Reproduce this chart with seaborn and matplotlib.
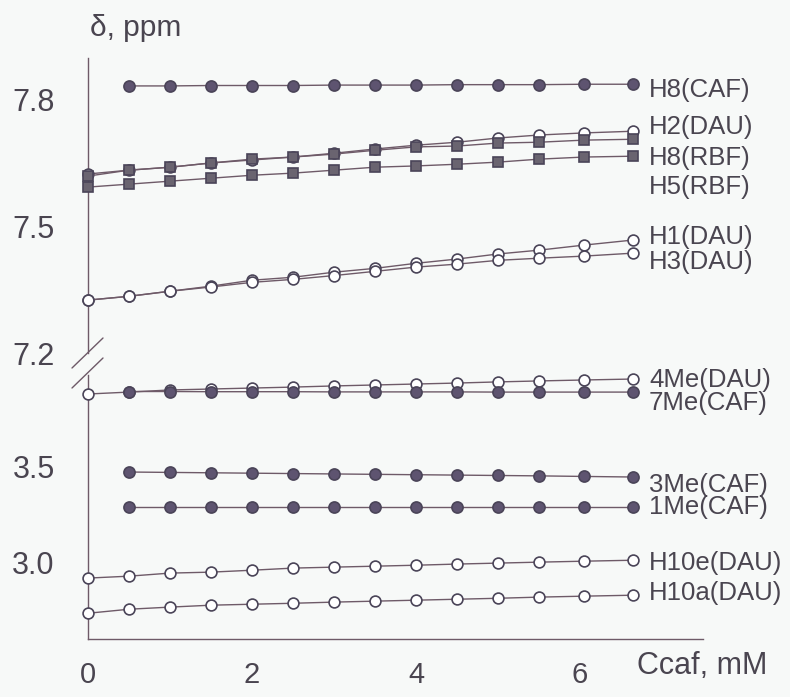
import matplotlib
matplotlib.use('Agg')
import matplotlib.pyplot as plt
import seaborn as sns
from matplotlib.lines import Line2D

sns.set_style('white')
plt.rcParams['font.family'] = ['Liberation Sans', 'DejaVu Sans']

BG = '#f7f9f8'
TXT = '#4a4550'
LINE = '#6e5a68'
FILL = '#5e5470'
EDGE = '#4a4458'
SQ = '#6a6470'

# caffeine concentration, mM
x_dau = [0, 0.5, 1.0, 1.5, 2.0, 2.5, 3.0, 3.5, 4.0, 4.5, 5.0, 5.5, 6.05, 6.65]
x_caf = x_dau[1:]

# upper part of the axis (aromatic protons)
h8_caf = [7.831, 7.831, 7.832, 7.832, 7.832, 7.833, 7.833, 7.833, 7.834, 7.834, 7.834, 7.835, 7.835]
h2_dau = [7.623, 7.632, 7.639, 7.649, 7.656, 7.663, 7.672, 7.682, 7.691, 7.698, 7.708, 7.715, 7.720, 7.724]
h8_rbf = [7.618, 7.632, 7.639, 7.649, 7.658, 7.663, 7.670, 7.679, 7.687, 7.689, 7.696, 7.698, 7.703, 7.705]
h5_rbf = [7.592, 7.599, 7.606, 7.613, 7.620, 7.625, 7.632, 7.639, 7.642, 7.646, 7.651, 7.658, 7.663, 7.665]
h1_dau = [7.325, 7.334, 7.346, 7.358, 7.372, 7.379, 7.391, 7.400, 7.412, 7.422, 7.434, 7.443, 7.455, 7.467]
h3_dau = [7.325, 7.334, 7.346, 7.356, 7.367, 7.374, 7.383, 7.393, 7.403, 7.410, 7.419, 7.424, 7.429, 7.436]

# lower part of the axis (methyl and H10 protons)
me4_dau = [3.875, 3.885, 3.896, 3.901, 3.906, 3.911, 3.917, 3.922, 3.927, 3.932, 3.938, 3.943, 3.948, 3.953]
me7_caf = [3.888, 3.888, 3.887, 3.887, 3.887, 3.886, 3.886, 3.886, 3.886, 3.885, 3.885, 3.885, 3.885]
me3_caf = [3.469, 3.467, 3.465, 3.463, 3.461, 3.459, 3.457, 3.455, 3.453, 3.451, 3.449, 3.446, 3.443]
me1_caf = [3.286, 3.286, 3.286, 3.286, 3.286, 3.286, 3.286, 3.286, 3.286, 3.286, 3.286, 3.286, 3.286]
h10e_dau = [2.917, 2.927, 2.943, 2.948, 2.958, 2.969, 2.974, 2.979, 2.984, 2.990, 2.995, 3.000, 3.005, 3.010]
h10a_dau = [2.734, 2.755, 2.766, 2.776, 2.781, 2.786, 2.792, 2.797, 2.802, 2.807, 2.812, 2.818, 2.823, 2.828]

top_labels = ['H8(CAF)', 'H2(DAU)', 'H8(RBF)', 'H5(RBF)', 'H1(DAU)', 'H3(DAU)']
top_label_y = [7.821, 7.734, 7.661, 7.592, 7.474, 7.415]
bot_labels = ['4Me(DAU)', '7Me(CAF)', '3Me(CAF)', '1Me(CAF)', 'H10e(DAU)', 'H10a(DAU)']
bot_label_y = [3.948, 3.828, 3.401, 3.286, 2.995, 2.839]

fig = plt.figure(figsize=(7.9, 6.97), dpi=100, facecolor=BG)
ax_top = fig.add_axes([0.1114, 0.4935, 0.7785, 0.4233])
ax_bot = fig.add_axes([0.1114, 0.0832, 0.7785, 0.3788])


def draw(ax, x, y, kind):
    if kind == 'filled':
        kw = dict(marker='o', markersize=8, markerfacecolor=FILL, markeredgecolor=EDGE)
    elif kind == 'open':
        kw = dict(marker='o', markersize=7.8, markerfacecolor='white', markeredgecolor=EDGE)
    else:
        kw = dict(marker='s', markersize=7, markerfacecolor=SQ, markeredgecolor=EDGE)
    sns.lineplot(x=x, y=y, ax=ax, color=LINE, linewidth=1.0, markeredgewidth=1.2,
                 clip_on=False, zorder=3, **kw)


draw(ax_top, x_caf, h8_caf, 'filled')
draw(ax_top, x_dau, h1_dau, 'open')
draw(ax_top, x_dau, h3_dau, 'open')
draw(ax_top, x_dau, h5_rbf, 'square')
draw(ax_top, x_dau, h2_dau, 'open')
draw(ax_top, x_dau, h8_rbf, 'square')

draw(ax_bot, x_dau, me4_dau, 'open')
draw(ax_bot, x_caf, me7_caf, 'filled')
draw(ax_bot, x_caf, me3_caf, 'filled')
draw(ax_bot, x_caf, me1_caf, 'filled')
draw(ax_bot, x_dau, h10e_dau, 'open')
draw(ax_bot, x_dau, h10a_dau, 'open')

for ax in (ax_top, ax_bot):
    ax.set_facecolor('none')
    ax.set_xlim(0, 7.5)
    ax.set_xlabel('')
    ax.set_ylabel('')
    for s in ('top', 'right'):
        ax.spines[s].set_visible(False)
    ax.spines['left'].set_color(LINE)
    ax.spines['left'].set_linewidth(1.0)
    ax.tick_params(axis='y', direction='out', length=11, width=1.0, color=LINE,
                   labelsize=22, labelcolor=TXT, pad=13)

ax_top.set_ylim(7.2, 7.897)
ax_top.set_yticks([7.2, 7.5, 7.8])
ax_top.set_yticklabels(['7.2', '7.5', '7.8'])
ax_top.yaxis.get_major_ticks()[0].tick1line.set_visible(False)
ax_top.spines['bottom'].set_visible(False)
ax_top.set_xticks([])

ax_bot.set_ylim(2.6, 3.974)
ax_bot.set_yticks([3.0, 3.5])
ax_bot.set_yticklabels(['3.0', '3.5'])
ax_bot.spines['bottom'].set_color(LINE)
ax_bot.spines['bottom'].set_linewidth(1.0)
ax_bot.set_xticks([0, 2, 4, 6])
ax_bot.set_xticklabels(['0', '2', '4', '6'])
ax_bot.tick_params(axis='x', direction='out', length=11, width=1.0, color=LINE,
                   labelsize=21, labelcolor=TXT, pad=5)

for lab, yy in zip(top_labels, top_label_y):
    ax_top.text(6.84, yy, lab, fontsize=18.5, color=TXT, va='center', ha='left')
for lab, yy in zip(bot_labels, bot_label_y):
    ax_bot.text(6.84, yy, lab, fontsize=18.5, color=TXT, va='center', ha='left')

fig.text(90 / 790, 1 - 36 / 697, 'δ, ppm', fontsize=21.5, color=TXT, ha='left', va='baseline')
fig.text(637 / 790, 1 - 666 / 697, 'Ccaf, mM', fontsize=22, color=TXT, ha='left', va='center')

# axis break marks
for y0, y1 in ((368, 338), (388, 358)):
    fig.add_artist(Line2D([72 / 790, 103 / 790], [1 - y0 / 697, 1 - y1 / 697],
                          color=LINE, linewidth=1.0, transform=fig.transFigure))

fig.savefig('out.png', dpi=100, facecolor=BG)
